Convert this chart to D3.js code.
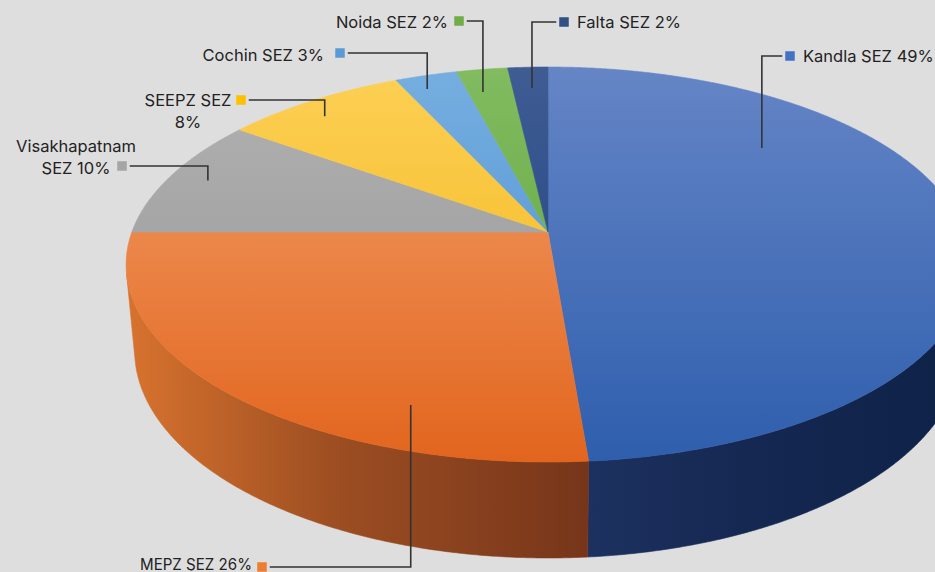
<!DOCTYPE html>
<html>
<head>
<meta charset="utf-8">
<script src="https://cdn.jsdelivr.net/npm/d3@7"></script>
<style>
  html, body { margin: 0; padding: 0; background: #dedede; }
  svg { display: block; }
</style>
</head>
<body>
<div id="chart"></div>
<script>
// slice data (clockwise from 12 o'clock)
var names = ["Kandla SEZ", "MEPZ SEZ", "Visakhapatnam SEZ", "SEEPZ SEZ", "Cochin SEZ", "Noida SEZ", "Falta SEZ"]
var shares = [48.7, 26.3, 9.9, 8.2, 2.8, 2.3, 1.8]
var pctLabels = ["49%", "26%", "10%", "8%", "3%", "2%", "2%"]

// colours: top face light/dark, side left/right
var topColors = [
    ["#6585c6", "#2e5ead"],
    ["#f3a06b", "#e2651e"],
    ["#b2b2b2", "#939393"],
    ["#fdd055", "#f0b212"],
    ["#76aee0", "#468cce"],
    ["#82bb60", "#58a337"],
    ["#3f5c93", "#1b3d7c"]
]
var sideColors = [
    ["#1d3160", "#0f2248"],
    ["#d8732e", "#76351a"],
    ["#7a7a7a", "#555555"],
    ["#c18c10", "#8f6a0c"],
    ["#3a6fa5", "#2a5685"],
    ["#478330", "#336223"],
    ["#172f5c", "#0f2248"]
]
var markerColors = ["#4472c4", "#ed7d31", "#a5a5a5", "#ffc000", "#5b9bd5", "#70ad47", "#2f4f85"]

// label layout: marker centre, text position/anchor, line split, leader anchor on the slice
var labelLayout = [
    { mx: 790, my: 56, tx: 803, ty: 62, anchor: "start", split: 0, f: 0.283, r: 0.727 },
    { mx: 262, my: 567, tx: 252, ty: 570, anchor: "end", split: 0, f: 0.262, r: 0.835, squeeze: 112 },
    { mx: 122, my: 166, tx: 76, ty: 152, anchor: "middle", split: 1, f: 0.51, r: 0.90 },
    { mx: 241, my: 100, tx: 188, ty: 106, anchor: "middle", split: 2, f: 0.43, r: 0.896 },
    { mx: 340, my: 53, tx: 324, ty: 61, anchor: "end", split: 0, f: 0.35, r: 0.91 },
    { mx: 459, my: 21, tx: 448, ty: 27.5, anchor: "end", split: 0, f: 0.32, r: 0.847 },
    { mx: 564, my: 22, tx: 577, ty: 27.5, anchor: "start", split: 0, f: 0.546, r: 0.856 }
]

var w = 935
var h = 572

// perspective camera for the 3d pie
var cx = 548, cy = 232
var focal = 2243
var pitch = 27.5 * Math.PI / 180
var camDist = 5.39
var thick = 0.235
var sinP = Math.sin(pitch), cosP = Math.cos(pitch)

function project(theta, r, depth) {
    var u = r * Math.sin(theta)
    var v = r * Math.cos(theta)
    var dy = -depth * thick - camDist * sinP
    var dz = v + camDist * cosP
    var zc = -dy * sinP + dz * cosP
    var yc = dy * cosP + dz * sinP
    return [cx + focal * u / zc, cy - focal * yc / zc]
}

function arcPoints(a0, a1, r, depth) {
    var n = Math.max(2, Math.ceil(Math.abs(a1 - a0) / (0.4 * Math.PI / 180)))
    return d3.range(n + 1).map(function(i) {
        return project(a0 + (a1 - a0) * i / n, r, depth)
    })
}

var svg = d3.select("#chart").append("svg")
    .attr("width", w)
    .attr("height", h)

svg.append("rect").attr("width", w).attr("height", h).attr("fill", "#dedede")

var defs = svg.append("defs")

var pie = d3.pie().sort(null).value(function(d) { return d })
var arcs = pie(shares)
var line = d3.line()

// side is visible only where the rim faces the camera
var visHalf = Math.acos(-1 / (camDist * cosP))
var visStart = visHalf, visEnd = 2 * Math.PI - visHalf

arcs.forEach(function(a, i) {
    var g1 = defs.append("linearGradient")
        .attr("id", "top" + i)
        .attr("gradientUnits", "userSpaceOnUse")
        .attr("x1", 0).attr("y1", 67).attr("x2", 0).attr("y2", 462)
    g1.append("stop").attr("offset", 0).attr("stop-color", topColors[i][0])
    g1.append("stop").attr("offset", 1).attr("stop-color", topColors[i][1])

    var g2 = defs.append("linearGradient")
        .attr("id", "side" + i)
        .attr("gradientUnits", "userSpaceOnUse")
        .attr("x1", i == 0 ? 590 : 126).attr("y1", 0)
        .attr("x2", i == 0 ? 935 : 590).attr("y2", 0)
    g2.append("stop").attr("offset", 0).attr("stop-color", sideColors[i][0])
    g2.append("stop").attr("offset", 0.45).attr("stop-color", d3.interpolateRgb(sideColors[i][0], sideColors[i][1])(0.6))
    g2.append("stop").attr("offset", 1).attr("stop-color", sideColors[i][1])
})

// sides
var sideG = svg.append("g")
arcs.forEach(function(a, i) {
    var s = Math.max(a.startAngle, visStart)
    var e = Math.min(a.endAngle, visEnd)
    if (e <= s) return
    var pts = arcPoints(s, e, 1, 0).concat(arcPoints(e, s, 1, 1))
    sideG.append("path")
        .attr("d", line(pts) + "Z")
        .attr("fill", "url(#side" + i + ")")
        .attr("stroke", "url(#side" + i + ")")
        .attr("stroke-width", 0.6)
})

// top faces
var topG = svg.append("g")
arcs.forEach(function(a, i) {
    var pts = [project(0, 0, 0)].concat(arcPoints(a.startAngle, a.endAngle, 1, 0))
    topG.append("path")
        .attr("d", line(pts) + "Z")
        .attr("fill", "url(#top" + i + ")")
        .attr("stroke", "url(#top" + i + ")")
        .attr("stroke-width", 0.6)
})

// labels with leader lines
var font = "Inter, 'Noto Sans', sans-serif"
var labG = svg.append("g")
var msize = 9.5

arcs.forEach(function(a, i) {
    var lay = labelLayout[i]
    var ang = a.startAngle + (a.endAngle - a.startAngle) * lay.f
    var anchor = project(ang, lay.r, 0)

    var toRight = anchor[0] > lay.mx
    var x0 = toRight ? lay.mx + msize / 2 + 3 : lay.mx - msize / 2 - 3
    labG.append("path")
        .attr("d", line([[x0, lay.my], [anchor[0], lay.my], anchor]))
        .attr("fill", "none")
        .attr("stroke", "#333333")
        .attr("stroke-width", 1.6)

    labG.append("rect")
        .attr("x", lay.mx - msize / 2)
        .attr("y", lay.my - msize / 2)
        .attr("width", msize)
        .attr("height", msize)
        .attr("fill", markerColors[i])

    var words = (names[i] + " " + pctLabels[i]).split(" ")
    var lines = lay.split ? [words.slice(0, lay.split).join(" "), words.slice(lay.split).join(" ")] : [words.join(" ")]

    var txt = labG.append("text")
        .attr("font-family", font)
        .attr("font-size", "16.5px")
        .attr("font-weight", 400)
        .attr("fill", "#222222")
        .attr("text-anchor", lay.anchor)

    lines.forEach(function(s, j) {
        txt.append("tspan").attr("x", lay.tx).attr("y", lay.ty + j * 22).text(s)
    })
    if (lay.squeeze) {
        txt.attr("textLength", lay.squeeze).attr("lengthAdjust", "spacingAndGlyphs")
    }
})
</script>
</body>
</html>
